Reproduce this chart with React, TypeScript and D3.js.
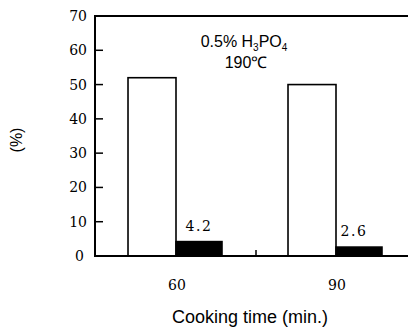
import React from "react";
import * as d3 from "d3";

const categories = ["60", "90"];
const whiteValues = [52, 50];
const blackValues = [4.2, 2.6];
const blackLabels = ["4.2", "2.6"];
const yTicks = [0, 10, 20, 30, 40, 50, 60, 70];

const W = 408;
const H = 327;
const left = 95;
const top = 16;
const bottom = 256;

export default function App() {
  const y = d3.scaleLinear().domain([0, 70]).range([bottom, top]);
  const x = d3.scaleBand().domain(categories).range([96, 416]).padding(0);
  const sub = d3
    .scaleBand()
    .domain(["w", "b"])
    .range([0, x.bandwidth()])
    .paddingInner(0)
    .paddingOuter(0.667);
  const serif = "'DejaVu Serif', serif";
  const sans = "'Liberation Sans', Arial, sans-serif";
  return (
    <svg width={W} height={H} style={{ position: "absolute", left: 0, top: 0, background: "#fff" }}>
      <rect x={0} y={0} width={W} height={H} fill="#fff" />
      {/* frame */}
      <line x1={left} x2={W} y1={top} y2={top} stroke="#000" strokeWidth={2} />
      <line x1={left} x2={left} y1={top - 1} y2={bottom + 1} stroke="#000" strokeWidth={2} />
      {/* bars */}
      {categories.map((c, i) => {
        const bx = x(c)!;
        const bw = sub.bandwidth();
        return (
          <g key={c}>
            <rect
              x={bx + sub("w")!}
              y={y(whiteValues[i])}
              width={bw}
              height={y(0) - y(whiteValues[i])}
              fill="#fff"
              stroke="#000"
              strokeWidth={1.6}
            />
            <rect
              x={bx + sub("b")!}
              y={y(blackValues[i])}
              width={bw - 2}
              height={y(0) - y(blackValues[i])}
              fill="#000"
              stroke="#000"
              strokeWidth={1.6}
            />
            <text
              x={bx + sub("b")! + bw / 2 - (i === 1 ? 6 : 1)}
              y={y(blackValues[i]) - 11}
              textAnchor="middle"
              fontFamily={serif}
              fontSize={14}
              letterSpacing={1.5}
            >
              {blackLabels[i]}
            </text>
            <text
              x={bx + x.bandwidth() / 2 + 1}
              y={290}
              textAnchor="middle"
              fontFamily={serif}
              fontSize={14}
            >
              {c}
            </text>
          </g>
        );
      })}
      <line x1={left} x2={W} y1={bottom} y2={bottom} stroke="#000" strokeWidth={2} />
      {/* category boundary tick */}
      <line x1={x("90")!} x2={x("90")!} y1={bottom} y2={bottom - 6} stroke="#000" strokeWidth={1.5} />
      {/* y ticks */}
      {yTicks.map((t) => (
        <g key={t}>
          {t > 0 && t < 70 && (
            <line x1={left} x2={left + 8} y1={y(t)} y2={y(t)} stroke="#000" strokeWidth={1.5} />
          )}
          <text
            x={t === 0 ? 84 : 87}
            y={y(t)}
            dy="0.36em"
            textAnchor="end"
            fontFamily={serif}
            fontSize={14}
          >
            {t}
          </text>
        </g>
      ))}
      {/* y label */}
      <text
        transform={`translate(22,140) rotate(-90)`}
        textAnchor="middle"
        fontFamily={sans}
        fontSize={16}
      >
        (%)
      </text>
      {/* x label */}
      <text x={250} y={323} textAnchor="middle" fontFamily={sans} fontSize={18}>
        Cooking time (min.)
      </text>
      {/* annotation */}
      <text x={244} y={47} textAnchor="middle" fontFamily={sans} fontSize={16}>
        0.5% H<tspan fontSize={10} dy={4}>3</tspan>
        <tspan dy={-4}>PO</tspan>
        <tspan fontSize={10} dy={4}>4</tspan>
      </text>
      <text x={246} y={68} textAnchor="middle" fontFamily={sans} fontSize={16}>
        190℃
      </text>
    </svg>
  );
}
